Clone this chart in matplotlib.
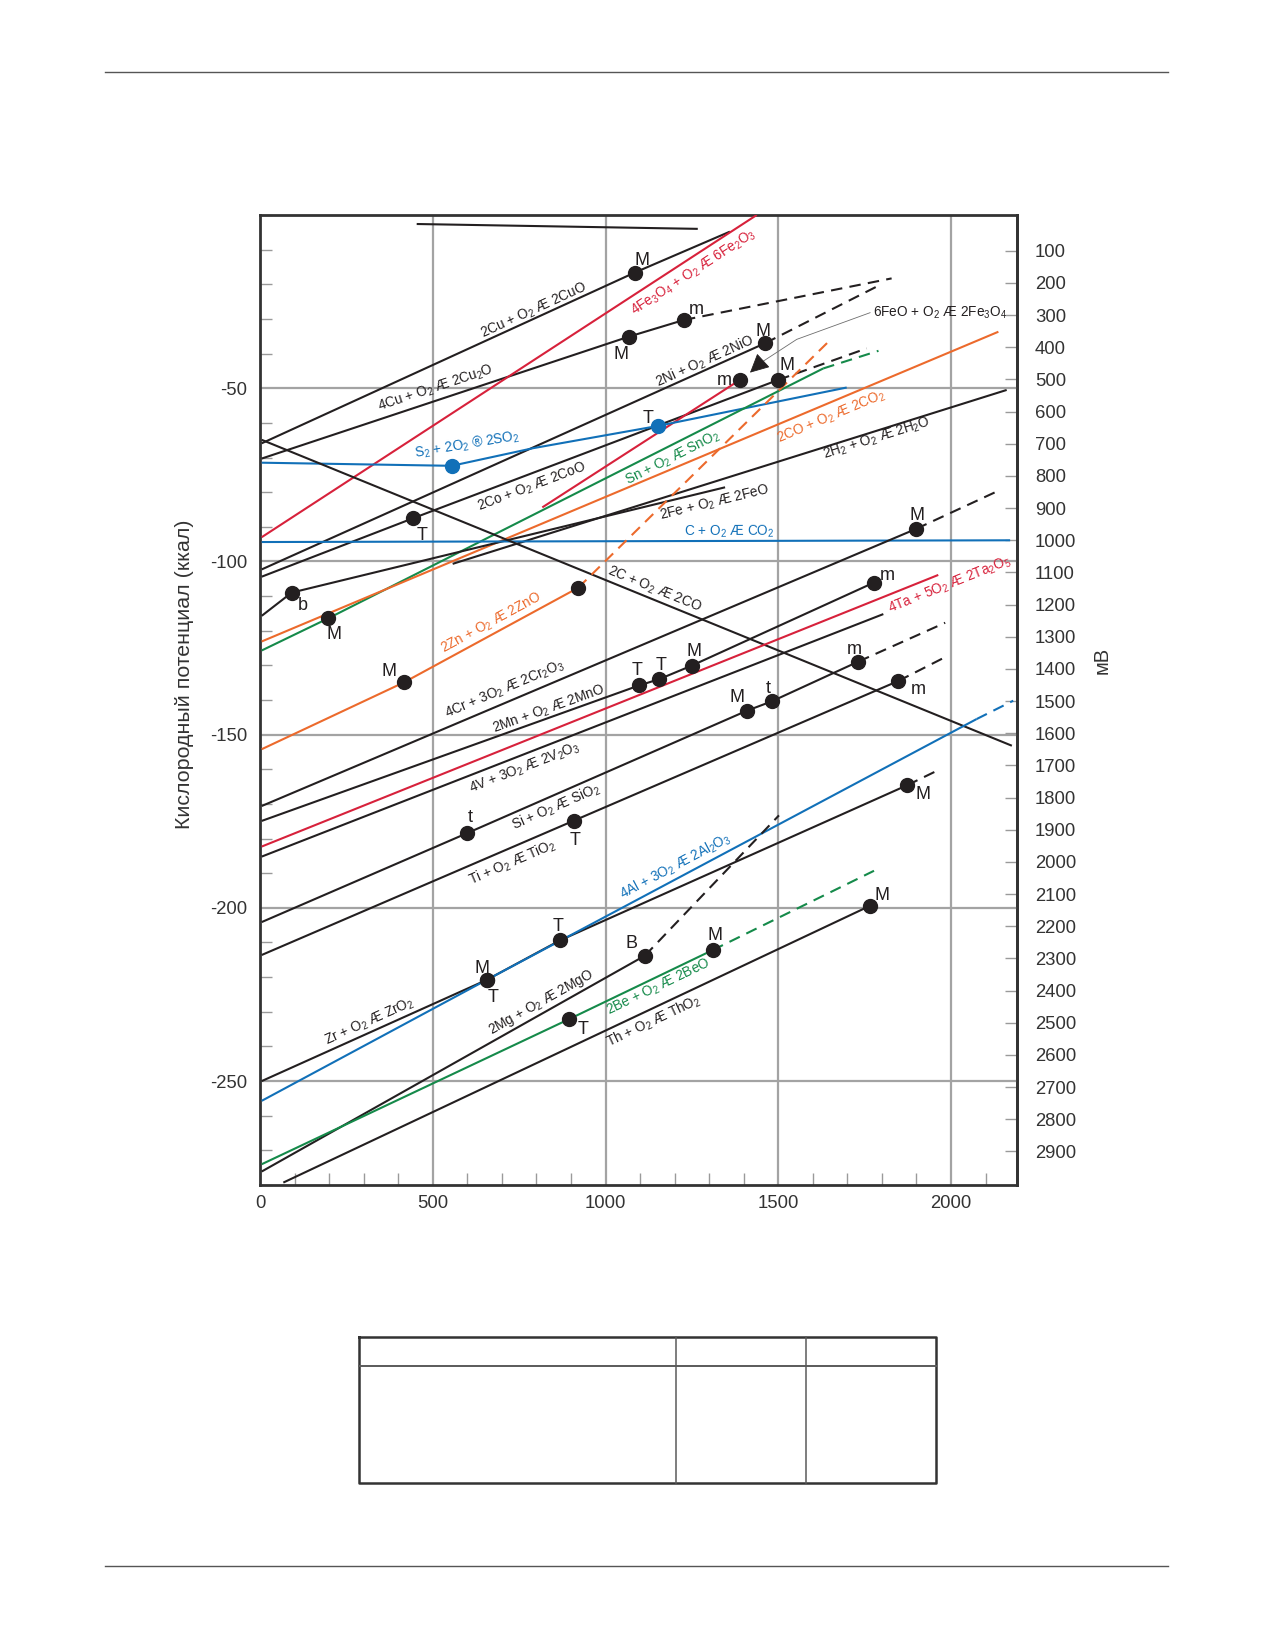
import numpy as np
import matplotlib
matplotlib.use('Agg')
import matplotlib.pyplot as plt
from matplotlib.lines import Line2D
from matplotlib.ticker import MultipleLocator, FixedLocator

plt.rcParams['font.family'] = ['Liberation Sans', 'DejaVu Sans']
plt.rcParams['mathtext.fontset'] = 'custom'
plt.rcParams['mathtext.rm'] = 'Liberation Sans'
plt.rcParams['mathtext.it'] = 'Liberation Sans:italic'
plt.rcParams['mathtext.bf'] = 'Liberation Sans:bold'
plt.rcParams['mathtext.default'] = 'regular'
plt.rcParams['axes.unicode_minus'] = False

# ---------------- data (temperature, °C  /  free energy, kcal) ----------------
top_T = [453.5, 1267]
top_G = [-2.6, -4.0]

cuo_T = [5, 1085, 1360]
cuo_G = [-65.9, -16.6, -4.8]

cu2o_T = [5, 1068, 1227]
cu2o_G = [-70.3, -35.1, -30.3]
cu2o_ext_T = [1227, 1828]
cu2o_ext_G = [-30.3, -18.3]

fe2o3_T = [5, 1437.6]
fe2o3_G = [-93.0, 0.0]

nio_T = [5, 1462]
nio_G = [-102.3, -37.0]
nio_ext_T = [1462, 1794]
nio_ext_G = [-37.0, -20.2]

coo_T = [5, 444, 1500]
coo_G = [-104.4, -87.5, -47.6]
coo_ext_T = [1500, 1756]
coo_ext_G = [-47.6, -38.5]

fe3o4_T = [817, 1389]
fe3o4_G = [-84.4, -47.6]

so2_T = [5, 555, 791, 1151, 1698]
so2_G = [-71.5, -72.4, -67.3, -60.9, -49.8]

sno2_T = [5, 198, 1630]
sno2_G = [-125.7, -116.4, -44.3]
sno2_ext_T = [1630, 1790]
sno2_ext_G = [-44.3, -39.2]

co2co_T = [5, 2137]
co2co_G = [-123.1, -33.7]

h2o_T = [557.6, 2161]
h2o_G = [-100.7, -50.5]

feo_T = [5, 91.7, 1346]
feo_G = [-115.7, -109.0, -78.6]

cco2_T = [5, 2171]
cco2_G = [-94.4, -93.9]

cco_T = [5, 2176]
cco_G = [-64.9, -153.2]

zno_T = [5, 417, 921]
zno_G = [-154.2, -134.9, -107.6]
zno_ext_T = [921, 1650]
zno_ext_G = [-107.6, -36.1]

cr2o3_T = [5, 1899]
cr2o3_G = [-170.6, -90.6]
cr2o3_ext_T = [1899, 2137]
cr2o3_ext_G = [-90.6, -79.6]

mno_T = [5, 1097, 1155, 1249, 1777]
mno_G = [-174.9, -135.8, -134.0, -130.1, -106.1]

ta2o5_T = [5, 1963]
ta2o5_G = [-182.3, -103.9]

v2o3_T = [5, 1804]
v2o3_G = [-185.2, -115.2]

sio2_T = [5, 598, 1409, 1481, 1732]
sio2_G = [-204.1, -178.5, -143.1, -140.4, -128.9]
sio2_ext_T = [1732, 1983]
sio2_ext_G = [-128.9, -117.7]

tio2_T = [5, 909, 1847.5]
tio2_G = [-213.6, -174.8, -134.5]
tio2_ext_T = [1847.5, 1985.5]
tio2_ext_G = [-134.5, -127.5]

zro2_T = [5, 656, 868, 1873]
zro2_G = [-250.0, -220.8, -209.4, -164.6]
zro2_ext_T = [1873, 1968]
zro2_ext_G = [-164.6, -160.0]

al2o3_T = [5, 656, 2074]
al2o3_G = [-255.7, -220.8, -145.5]
al2o3_ext_T = [2074, 2180]
al2o3_ext_G = [-145.5, -140.2]

mgo_T = [5, 1114]
mgo_G = [-276.1, -213.8]
mgo_ext_T = [1114, 1502]
mgo_ext_G = [-213.8, -173.3]

beo_T = [5, 895, 1310]
beo_G = [-274.0, -232.1, -212.2]
beo_ext_T = [1310, 1777]
beo_ext_G = [-212.2, -189.3]

tho2_T = [67.5, 1765.6]
tho2_G = [-279.3, -199.4]

# transition points (melting M/m, boiling B/b, transformation T/t)
pt_T = [1085, 1068, 1227, 1462, 1389, 1500, 1151, 555, 444, 91.7, 198, 417, 921,
        1899, 1097, 1155, 1249, 1777, 598, 1409, 1481, 1732, 909, 1847.5,
        656, 656, 868, 1873, 1114, 895, 1310, 1765.6]
pt_G = [-16.6, -35.1, -30.3, -37.0, -47.6, -47.6, -60.9, -72.4, -87.5, -109.0, -116.4, -134.9, -107.6,
        -90.6, -135.8, -134.0, -130.1, -106.1, -178.5, -143.1, -140.4, -128.9, -174.8, -134.5,
        -220.8, -220.8, -209.4, -164.6, -213.8, -232.1, -212.2, -199.4]
pt_lbl = ['M', 'M', 'm', 'M', 'm', 'M', 'T', '', 'T', 'b', 'M', 'M', '',
          'M', 'T', 'T', 'M', 'm', 't', 'M', 't', 'm', 'T', 'm',
          'M', 'T', 'T', 'M', 'B', 'T', 'M', 'M']
pt_blue = [6, 7]

mv_ticks = list(range(100, 3000, 100))
x_ticks = [0, 500, 1000, 1500, 2000]
y_ticks = [-250, -200, -150, -100, -50]

# ---------------- layout ----------------
W, H = 1275, 1650
def fx(px): return px / W
def fy(py): return 1 - py / H

BLACK = '#231f20'
RED = '#d7213b'
BLUE = '#1170b8'
GREEN = '#158a4a'
ORANGE = '#ec6a2c'
GRID = '#a3a3a3'

fig = plt.figure(figsize=(12.75, 16.5), dpi=100)
ax = fig.add_axes([fx(260), fy(1185), fx(1016.7) - fx(260), fy(215) - fy(1185)])
ax.set_xlim(0, 2190)
ax.set_ylim(-280, 0)

ax.set_xticks(x_ticks)
ax.set_xticklabels([str(v) for v in x_ticks])
ax.set_yticks(y_ticks)
ax.set_yticklabels([str(v) for v in y_ticks])
ax.xaxis.set_minor_locator(MultipleLocator(100))
ax.yaxis.set_minor_locator(MultipleLocator(10))
ax.tick_params(which='both', direction='in', color='#9a9a9a', width=1)
ax.tick_params(which='major', length=0, labelsize=13.3, labelcolor='#333333')
ax.tick_params(axis='x', which='major', pad=7)
ax.tick_params(axis='y', which='major', pad=9)
ax.tick_params(which='minor', length=8.6)
ax.tick_params(axis='y', which='both', right=False)
ax.tick_params(axis='x', which='both', top=False)
ax.grid(True, which='major', color=GRID, lw=1.6, zorder=0)
ax.set_axisbelow(True)
for s in ax.spines.values():
    s.set_linewidth(2.0)
    s.set_color('#333333')

def k2mv(k):
    return -10.77 * np.asarray(k) - 11
def mv2k(mv):
    return -(np.asarray(mv) + 11) / 10.77

sec = ax.secondary_yaxis('right', functions=(k2mv, mv2k))
sec.yaxis.set_major_locator(FixedLocator(mv_ticks))
sec.set_yticklabels([str(v) for v in mv_ticks])
sec.tick_params(direction='in', length=8.6, width=1, color='#9a9a9a',
                labelsize=13.3, labelcolor='#333333', pad=13)
sec.spines['right'].set_linewidth(2.0)
sec.spines['right'].set_color('#333333')

DASH = (0, (5.5, 3.5))
LW = 1.5
solid = [
    (top_T, top_G, BLACK), (cuo_T, cuo_G, BLACK), (cu2o_T, cu2o_G, BLACK),
    (fe2o3_T, fe2o3_G, RED), (nio_T, nio_G, BLACK), (coo_T, coo_G, BLACK),
    (fe3o4_T, fe3o4_G, RED), (so2_T, so2_G, BLUE), (sno2_T, sno2_G, GREEN),
    (co2co_T, co2co_G, ORANGE), (h2o_T, h2o_G, BLACK), (feo_T, feo_G, BLACK),
    (cco2_T, cco2_G, BLUE), (cco_T, cco_G, BLACK), (zno_T, zno_G, ORANGE),
    (cr2o3_T, cr2o3_G, BLACK), (mno_T, mno_G, BLACK), (ta2o5_T, ta2o5_G, RED),
    (v2o3_T, v2o3_G, BLACK), (sio2_T, sio2_G, BLACK), (tio2_T, tio2_G, BLACK),
    (zro2_T, zro2_G, BLACK), (al2o3_T, al2o3_G, BLUE), (mgo_T, mgo_G, BLACK),
    (beo_T, beo_G, GREEN), (tho2_T, tho2_G, BLACK),
]
dashed = [
    (cu2o_ext_T, cu2o_ext_G, BLACK), (nio_ext_T, nio_ext_G, BLACK),
    (coo_ext_T, coo_ext_G, BLACK), (sno2_ext_T, sno2_ext_G, GREEN),
    (zno_ext_T, zno_ext_G, ORANGE), (cr2o3_ext_T, cr2o3_ext_G, BLACK),
    (sio2_ext_T, sio2_ext_G, BLACK), (tio2_ext_T, tio2_ext_G, BLACK),
    (zro2_ext_T, zro2_ext_G, BLACK), (al2o3_ext_T, al2o3_ext_G, BLUE),
    (mgo_ext_T, mgo_ext_G, BLACK), (beo_ext_T, beo_ext_G, GREEN),
]
for xs, ys, c in solid:
    ax.plot(xs, ys, color=c, lw=LW, zorder=3, solid_capstyle='butt')
for xs, ys, c in dashed:
    ax.plot(xs, ys, color=c, lw=LW, ls=DASH, zorder=3, dash_capstyle='butt')

# dots and their letters
lbl_pos = [(1106.6, -13.0), (1045, -40.4), (1262, -27.4), (1455, -33.7), (1343, -47.8),
           (1526, -43.5), (1124, -58.7), None, (468, -92.4), (125, -112.8), (214, -121.0),
           (374, -131.8), None, (1902.5, -86.6), (1090, -131.5), (1160, -129.9),
           (1256, -126.0), (1815.6, -104.1), (607.8, -173.9), (1381.5, -139.3),
           (1471, -136.6), (1720, -125.3), (911.7, -180.6), (1905.4, -136.9),
           (641.5, -217.4), (673.4, -225.9), (861.6, -205.4), (1920, -167.4),
           (1075.8, -210.2), (934, -235.2), (1318, -208.0), (1800, -196.5)]
for i, (x, y, l) in enumerate(zip(pt_T, pt_G, pt_lbl)):
    c = BLUE if i in pt_blue else BLACK
    ax.plot([x], [y], 'o', ms=10, color=c, zorder=5, mec=c)
    if l and lbl_pos[i] is not None:
        ax.text(lbl_pos[i][0], lbl_pos[i][1], l, fontsize=13, color=BLACK,
                ha='center', va='center', zorder=6)

def screen_angle(xs, ys, x):
    xc = min(max(x, xs[0] + 40), xs[-1] - 40)
    x1, x2 = xc - 40, xc + 40
    y1, y2 = np.interp([x1, x2], xs, ys)
    p = ax.transData.transform([(x1, y1), (x2, y2)])
    return np.degrees(np.arctan2(p[1, 1] - p[0, 1], p[1, 0] - p[0, 0]))

labels = [
    ('2Cu + O$_2$ Æ 2CuO', 793, -27.5, cuo_T, cuo_G, BLACK, None),
    ('4Cu + O$_2$ Æ 2Cu$_2$O', 509, -50.0, cu2o_T, cu2o_G, BLACK, None),
    ('4Fe$_3$O$_4$ + O$_2$ Æ 6Fe$_2$O$_3$', 1256, -16.6, fe2o3_T, fe2o3_G, RED, None),
    ('S$_2$ + 2O$_2$ ® 2SO$_2$', 598, -66.4, so2_T, so2_G, BLUE, 9.5),
    ('2Ni + O$_2$ Æ 2NiO', 1288, -42.3, nio_T, nio_G, BLACK, None),
    ('2Co + O$_2$ Æ 2CoO', 786, -78.4, coo_T, coo_G, BLACK, None),
    ('Sn + O$_2$ Æ SnO$_2$', 1194, -70.2, sno2_T, sno2_G, GREEN, None),
    ('2CO + O$_2$ Æ 2CO$_2$', 1655, -58.4, co2co_T, co2co_G, ORANGE, None),
    ('2H$_2$ + O$_2$ Æ 2H$_2$O', 1785, -64.5, h2o_T, h2o_G, BLACK, None),
    ('2Fe + O$_2$ Æ 2FeO', 1314, -83.2, feo_T, feo_G, BLACK, None),
    ('C + O$_2$ Æ CO$_2$', 1358, -91.4, cco2_T, cco2_G, BLUE, None),
    ('2C + O$_2$ Æ 2CO', 1140, -108.0, cco_T, cco_G, BLACK, None),
    ('2Zn + O$_2$ Æ 2ZnO', 668, -117.7, zno_T, zno_G, ORANGE, None),
    ('4Cr + 3O$_2$ Æ 2Cr$_2$O$_3$', 709, -136.9, cr2o3_T, cr2o3_G, BLACK, None),
    ('2Mn + O$_2$ Æ 2MnO', 834.5, -142.7, mno_T, mno_G, BLACK, None),
    ('4Ta + 5O$_2$ Æ 2Ta$_2$O$_5$', 1997, -106.8, ta2o5_T, ta2o5_G, RED, None),
    ('4V + 3O$_2$ Æ 2V$_2$O$_3$', 767, -159.5, v2o3_T, v2o3_G, BLACK, None),
    ('Si + O$_2$ Æ SiO$_2$', 856.7, -171.0, sio2_T, sio2_G, BLACK, None),
    ('Ti + O$_2$ Æ TiO$_2$', 731, -186.9, tio2_T, tio2_G, BLACK, None),
    ('4Al + 3O$_2$ Æ 2Al$_2$O$_3$', 1201, -188.1, al2o3_T, al2o3_G, BLUE, None),
    ('Zr + O$_2$ Æ ZrO$_2$', 318, -232.8, zro2_T, zro2_G, BLACK, None),
    ('2Mg + O$_2$ Æ 2MgO', 815, -227.3, mgo_T, mgo_G, BLACK, None),
    ('2Be + O$_2$ Æ 2BeO', 1153, -222.9, beo_T, beo_G, GREEN, None),
    ('Th + O$_2$ Æ ThO$_2$', 1140, -232.8, tho2_T, tho2_G, BLACK, None),
]
for txt, x, y, xs, ys, c, rot in labels:
    r = rot if rot is not None else screen_angle(xs, ys, x)
    ax.text(x, y, txt, fontsize=9.8, color=c, rotation=r, rotation_mode='anchor',
            ha='center', va='center', zorder=6)

# 6FeO + O2 -> 2Fe3O4 with leader and arrow
ax.text(1775, -28.3, '6FeO + O$_2$ Æ 2Fe$_3$O$_4$', fontsize=9.8, color=BLACK,
        ha='left', va='center', zorder=6)
ax.plot([1765.6, 1553.4, 1447.2], [-28.2, -35.9, -42.8], color='#6d6d6d', lw=0.6, zorder=4)
ax.annotate('', xy=(1418.2, -45.5), xytext=(1450, -42.6),
            arrowprops=dict(arrowstyle='-|>', color=BLACK, lw=0.6, mutation_scale=30,
                            shrinkA=0, shrinkB=0), zorder=6)

# axis titles
fig.text(fx(184), fy(674), 'Кислородный потенциал (ккал)', rotation=90,
         ha='center', va='center', fontsize=15.4, color='#333333')
fig.text(fx(1101.7), fy(660), 'мВ', rotation=90, ha='center', va='center',
         fontsize=14.5, color='#333333')

# page rules
fig.add_artist(Line2D([fx(105), fx(1168)], [fy(71.5), fy(71.5)], color='#555555', lw=1.0))
fig.add_artist(Line2D([fx(105), fx(1168)], [fy(1565.6), fy(1565.6)], color='#555555', lw=1.0))

# empty table
tl, tr, tt, tb = 359.0, 935.7, 1337.3, 1483.0
fig.add_artist(Line2D([fx(tl), fx(tr), fx(tr), fx(tl), fx(tl)],
                      [fy(tt), fy(tt), fy(tb), fy(tb), fy(tt)],
                      color='#333333', lw=1.8))
fig.add_artist(Line2D([fx(tl), fx(tr)], [fy(1366.3), fy(1366.3)], color='#5a5a5a', lw=1.4))
for vx in (675.7, 805.7):
    fig.add_artist(Line2D([fx(vx), fx(vx)], [fy(tt), fy(tb)], color='#5a5a5a', lw=1.1))

fig.savefig('out.png', dpi=100)
